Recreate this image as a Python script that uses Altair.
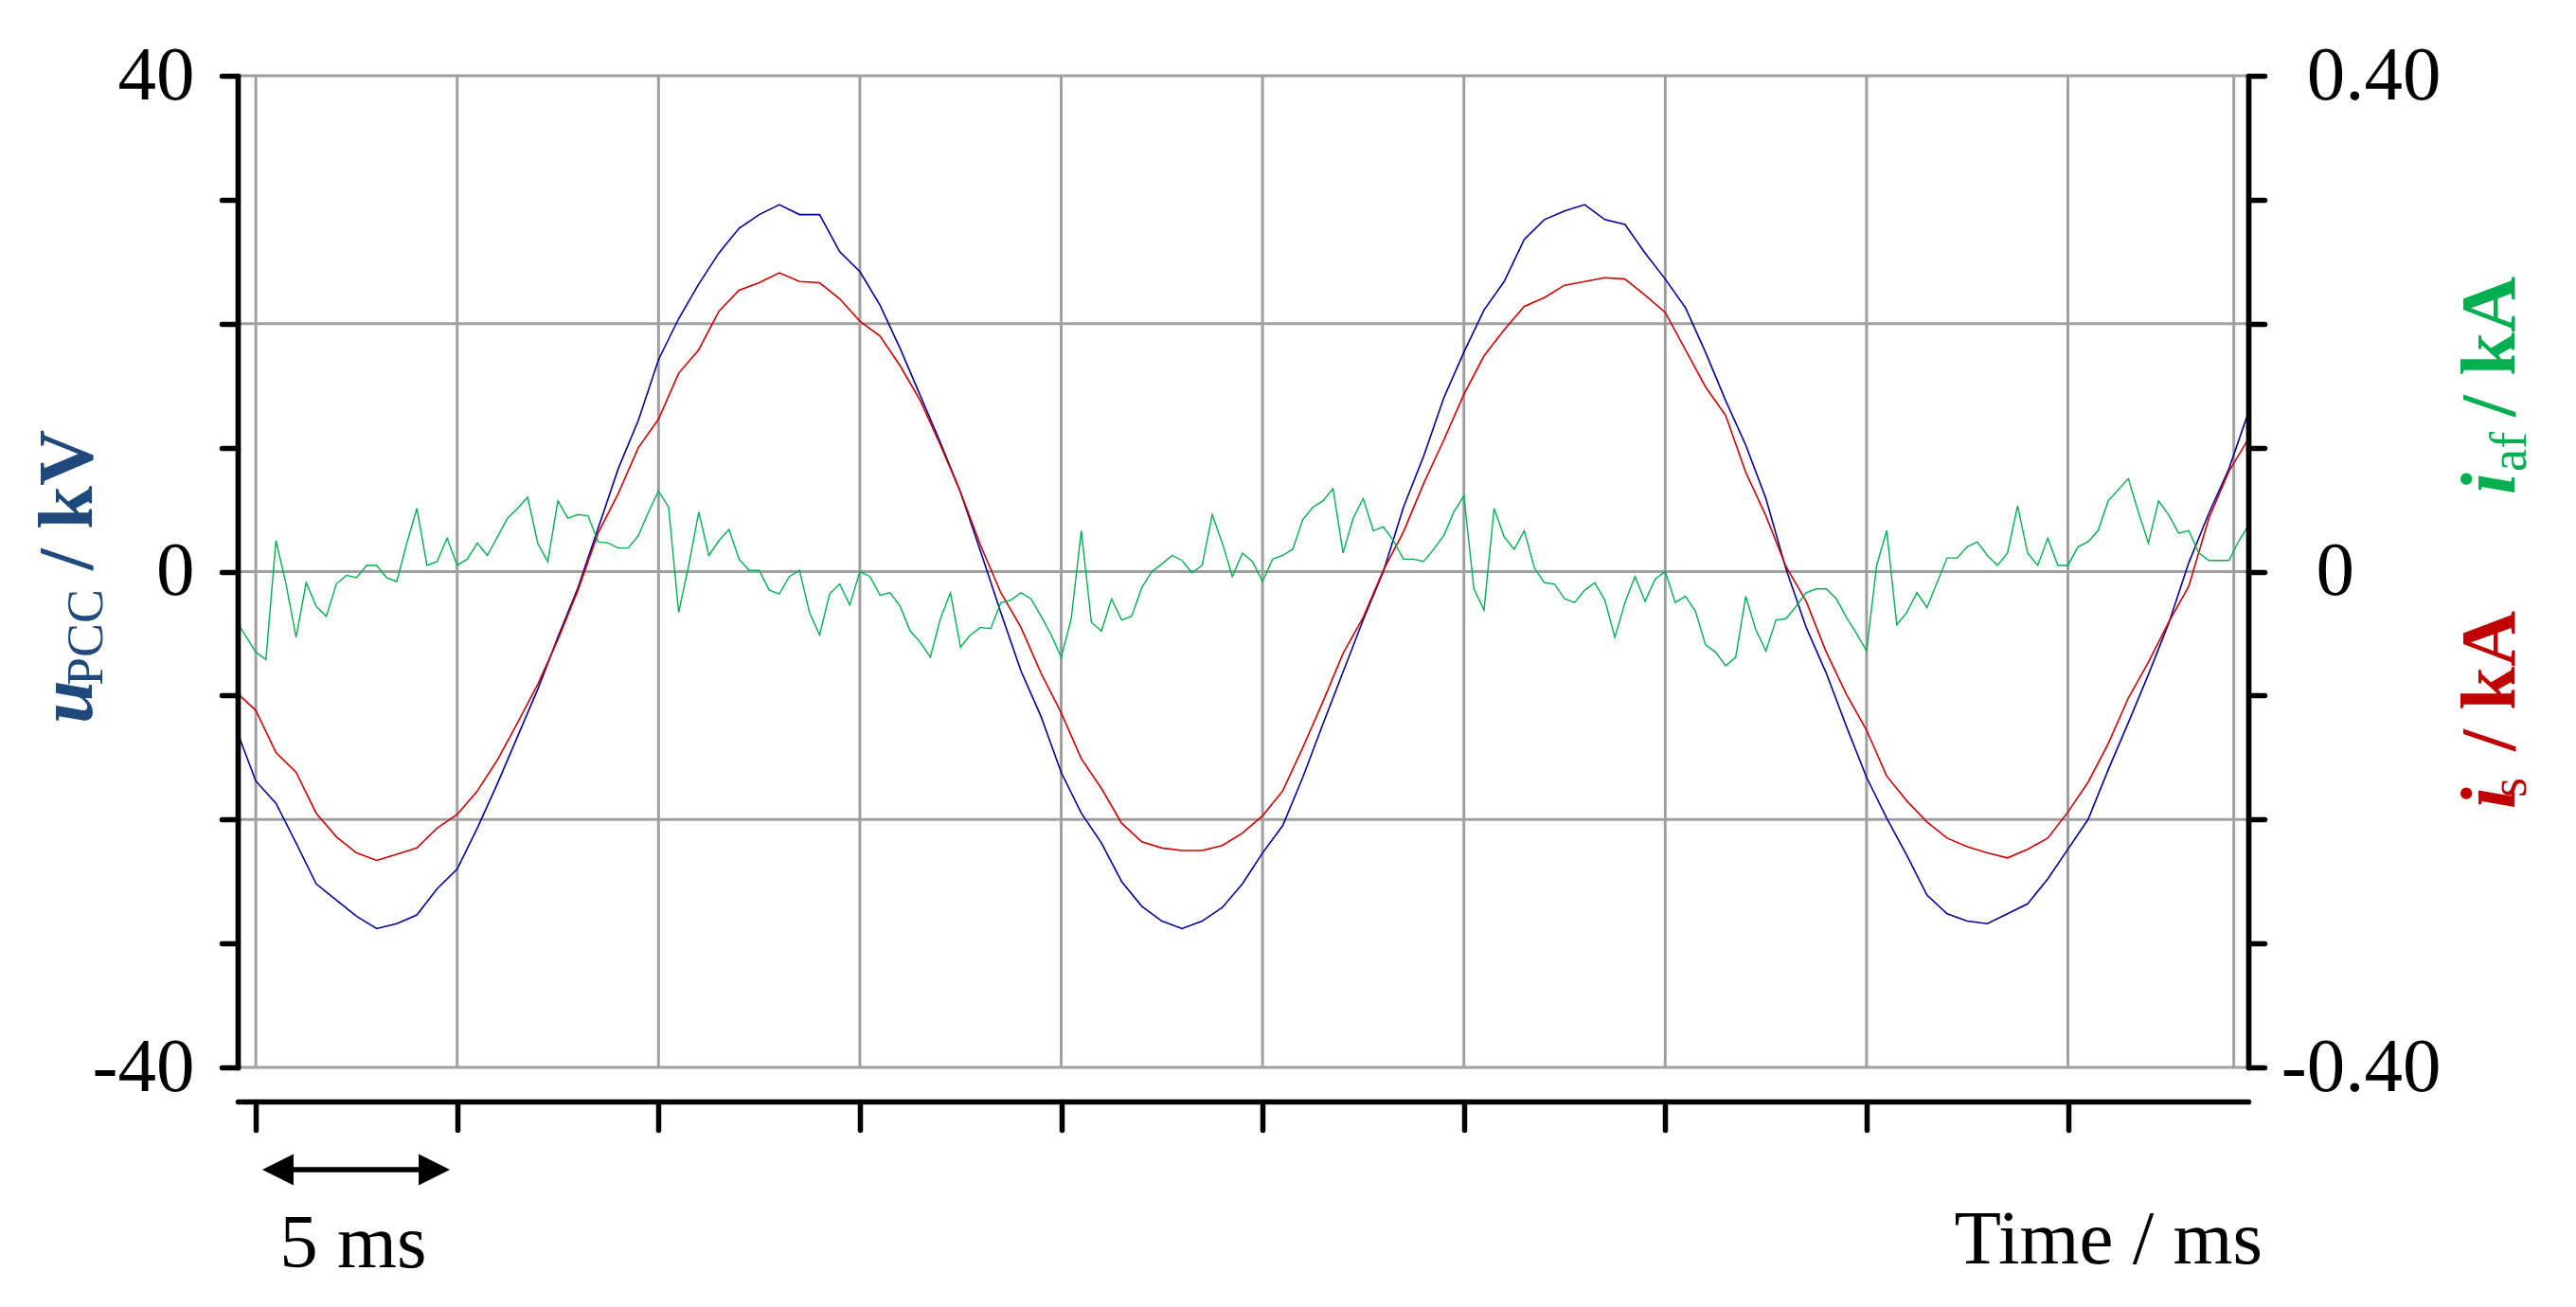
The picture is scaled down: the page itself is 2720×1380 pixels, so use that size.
import altair as alt
import pandas as pd

# ---------------- data ----------------
# u_PCC in kV, sampled every 0.5 ms starting at t = -0.5 ms
U_T0, U_DT = -0.5, 0.5
u_pcc_kv = [
    -12.6, -16.9, -18.7, -21.9, -25.2, -26.5, -27.8, -28.8,
    -28.4, -27.7, -25.6, -24.0, -20.7, -17.1, -13.3, -9.5,
    -5.3, -1.3, 3.5, 8.3, 12.2, 17.1, 20.4, 23.2,
    25.7, 27.7, 28.8, 29.6, 28.8, 28.8, 25.8, 24.2,
    21.5, 18.0, 14.2, 10.4, 6.4, 1.6, -3.3, -8.0,
    -11.7, -16.2, -19.5, -21.9, -25.0, -27.0, -28.2, -28.8,
    -28.2, -27.1, -25.2, -22.7, -20.5, -16.6, -12.3, -8.1,
    -3.9, 0.0, 5.2, 9.3, 14.0, 17.7, 21.1, 23.4,
    26.8, 28.4, 29.1, 29.6, 28.4, 28.0, 25.7, 23.6,
    21.3, 17.7, 13.8, 10.2, 5.9, 0.2, -4.5, -8.2,
    -12.5, -16.6, -19.9, -22.9, -26.1, -27.6, -28.2, -28.4,
    -27.6, -26.8, -24.8, -22.4, -20.0, -16.0, -12.2, -8.3,
    -4.2, 0.7, 4.7, 8.3, 13.0,
]
# i_s in kA, same time base as u_PCC
i_s_ka = [
    -0.097, -0.112, -0.146, -0.162, -0.195, -0.214, -0.227, -0.233,
    -0.228, -0.223, -0.207, -0.196, -0.177, -0.152, -0.122, -0.091,
    -0.055, -0.015, 0.031, 0.063, 0.100, 0.123, 0.160, 0.179,
    0.210, 0.227, 0.233, 0.241, 0.234, 0.233, 0.220, 0.202,
    0.190, 0.166, 0.138, 0.102, 0.064, 0.021, -0.017, -0.045,
    -0.082, -0.114, -0.151, -0.175, -0.203, -0.218, -0.223, -0.225,
    -0.225, -0.221, -0.211, -0.197, -0.177, -0.142, -0.105, -0.066,
    -0.037, 0.001, 0.032, 0.071, 0.106, 0.143, 0.174, 0.195,
    0.214, 0.221, 0.231, 0.234, 0.237, 0.236, 0.223, 0.209,
    0.179, 0.149, 0.126, 0.080, 0.045, 0.004, -0.024, -0.065,
    -0.099, -0.128, -0.165, -0.185, -0.202, -0.215, -0.222, -0.227,
    -0.231, -0.224, -0.215, -0.194, -0.170, -0.139, -0.102, -0.073,
    -0.041, -0.012, 0.043, 0.081, 0.108,
]
# i_af in kA, sampled every 0.25 ms starting at t = -0.5 ms
G_T0, G_DT = -0.5, 0.25
i_af_ka = [
    -0.039, -0.052, -0.065, -0.071, 0.025, -0.010, -0.053, -0.009,
    -0.028, -0.036, -0.010, -0.003, -0.005, 0.005, 0.005, -0.005,
    -0.008, 0.023, 0.051, 0.005, 0.008, 0.027, 0.005, 0.010,
    0.023, 0.013, 0.028, 0.043, 0.051, 0.060, 0.023, 0.008,
    0.057, 0.043, 0.046, 0.045, 0.024, 0.023, 0.019, 0.019,
    0.029, 0.048, 0.065, 0.052, -0.033, 0.005, 0.048, 0.013,
    0.025, 0.034, 0.010, 0.001, 0.001, -0.015, -0.018, -0.004,
    0.001, -0.033, -0.051, -0.018, -0.010, -0.027, 0.000, -0.004,
    -0.019, -0.017, -0.028, -0.048, -0.057, -0.069, -0.038, -0.017,
    -0.061, -0.051, -0.045, -0.046, -0.025, -0.023, -0.017, -0.022,
    -0.036, -0.051, -0.069, -0.038, 0.033, -0.041, -0.048, -0.022,
    -0.039, -0.036, -0.013, 0.000, 0.006, 0.013, 0.009, -0.001,
    0.005, 0.046, 0.023, -0.004, 0.015, 0.008, -0.008, 0.010,
    0.013, 0.018, 0.042, 0.052, 0.057, 0.067, 0.015, 0.043,
    0.059, 0.033, 0.036, 0.025, 0.010, 0.010, 0.008, 0.018,
    0.029, 0.048, 0.061, -0.014, -0.031, 0.051, 0.028, 0.018,
    0.033, 0.003, -0.009, -0.010, -0.022, -0.025, -0.015, -0.009,
    -0.023, -0.053, -0.025, -0.004, -0.024, -0.006, 0.000, -0.025,
    -0.020, -0.032, -0.059, -0.065, -0.076, -0.069, -0.020, -0.047,
    -0.064, -0.039, -0.038, -0.028, -0.017, -0.014, -0.014, -0.022,
    -0.037, -0.050, -0.064, 0.005, 0.033, -0.043, -0.033, -0.017,
    -0.029, -0.009, 0.011, 0.011, 0.020, 0.024, 0.013, 0.005,
    0.015, 0.053, 0.015, 0.005, 0.027, 0.005, 0.005, 0.020,
    0.024, 0.033, 0.057, 0.066, 0.075, 0.048, 0.023, 0.057,
    0.046, 0.031, 0.033, 0.015, 0.009, 0.009, 0.009, 0.025,
    0.038,
]

# axes / ticks / labels
x_domain = [-0.45, 49.48]
x_ticks = [0, 5, 10, 15, 20, 25, 30, 35, 40, 45]
x_grid = x_ticks + [49.12]
u_domain = [-40, 40]
u_ticks = [-40, -30, -20, -10, 0, 10, 20, 30, 40]
u_grid = [-40, -20, 0, 20, 40]
u_labels = [(40, "40"), (0, "0"), (-40, "-40")]
i_domain = [-0.4, 0.4]
i_ticks = [-0.4, -0.3, -0.2, -0.1, 0.0, 0.1, 0.2, 0.3, 0.4]
i_end_labels = [(0.4, "0.40"), (-0.4, "-0.40")]
i_zero_label = [(0.0, "0")]

# "5 ms" scale bar (time in ms, level in kV units below the plot)
bar_tips = [0.16, 4.82]
bar_shaft = [0.45, 4.55]
bar_level = [-48.25]

SERIF = "Liberation Serif"
C_BLUE_LINE = "#000096"
C_RED_LINE = "#CC0000"
C_GREEN = "#00B050"
C_TITLE_BLUE = "#1F497D"
C_TITLE_RED = "#C00000"
GRID = "#A0A0A0"

W, H = 2123, 1047

# ---------------- tables ----------------
t_main = [U_T0 + U_DT * k for k in range(len(u_pcc_kv))]
t_g = [G_T0 + G_DT * k for k in range(len(i_af_ka))]
df_main = pd.DataFrame({"t": t_main, "u": u_pcc_kv, "i_s": i_s_ka})
df_g = pd.DataFrame({"t": t_g, "i_af": i_af_ka})

# ---------------- shared encodings ----------------
x_axis = alt.Axis(orient="bottom", values=x_ticks, grid=False, labels=False,
                  ticks=True, tickSize=30, tickWidth=5.5, tickColor="black",
                  tickCap="round", domain=True, domainColor="black",
                  domainWidth=5.5, domainCap="round", offset=36, title=None,
                  zindex=1)
x_scale = alt.Scale(domain=x_domain, nice=False, zero=False)


def X(field):
    return alt.X(field, type="quantitative", scale=x_scale, axis=x_axis, title=None)


expr_u = " : ".join(f"datum.value == {v} ? '{s}'" for v, s in u_labels) + " : ''"
u_axis = alt.Axis(orient="left", values=u_ticks, grid=False, labelExpr=expr_u,
                  labelFont=SERIF, labelFontSize=81, labelColor="black",
                  labelPadding=29, labelOverlap=False, labelLimit=400,
                  tickSize=17, tickWidth=5.5, tickColor="black", tickCap="round",
                  domainColor="black", domainWidth=5.7, domainCap="round",
                  title=None, zindex=1)
u_scale = alt.Scale(domain=u_domain, nice=False, zero=False)


def YU(field):
    return alt.Y(field, type="quantitative", scale=u_scale, axis=u_axis, title=None)


expr_i = " : ".join(f"abs(datum.value - ({v})) < 1e-6 ? '{s}'"
                    for v, s in i_end_labels) + " : ''"
i_axis = alt.Axis(orient="right", values=i_ticks, grid=False, labelExpr=expr_i,
                  labelFont=SERIF, labelFontSize=81, labelColor="black",
                  labelAlign="right", labelPadding=186, labelOverlap=False,
                  labelLimit=400, tickSize=17, tickWidth=5.5, tickColor="black",
                  tickCap="round", domainColor="black", domainWidth=5.7,
                  domainCap="round", title=None, zindex=1)
i_scale = alt.Scale(domain=i_domain, nice=False, zero=False)


def YI(field):
    return alt.Y(field, type="quantitative", scale=i_scale, axis=i_axis, title=None)


# ---------------- layers on the kV scale ----------------
hgrid = alt.Chart(pd.DataFrame({"gy": u_grid})).mark_rule(
    color=GRID, strokeWidth=3).encode(y=YU("gy"))
vgrid = alt.Chart(pd.DataFrame({"gx": x_grid})).mark_rule(
    color=GRID, strokeWidth=3).encode(x=X("gx"))
blue = alt.Chart(df_main).mark_line(color=C_BLUE_LINE, strokeWidth=1.6,
                                    clip=True).encode(x=X("t"), y=YU("u"))

shaft = alt.Chart(pd.DataFrame({"a": [bar_shaft[0]], "b": [bar_shaft[1]],
                                "lvl": bar_level})).mark_rule(
    color="black", strokeWidth=5.5).encode(x=X("a"), x2="b", y=YU("lvl"))
head_l = alt.Chart(pd.DataFrame({"a": [bar_tips[0]], "lvl": bar_level})).mark_point(
    shape="M 0 0 L 2 -1 L 2 1 Z", size=1089, filled=True, color="black",
    opacity=1, strokeWidth=0).encode(x=X("a"), y=YU("lvl"))
head_r = alt.Chart(pd.DataFrame({"a": [bar_tips[1]], "lvl": bar_level})).mark_point(
    shape="M 0 0 L -2 -1 L -2 1 Z", size=1089, filled=True, color="black",
    opacity=1, strokeWidth=0).encode(x=X("a"), y=YU("lvl"))

left_group = alt.layer(hgrid, vgrid, blue, shaft, head_l, head_r)

# ---------------- layers on the kA scale ----------------
red = alt.Chart(df_main).mark_line(color=C_RED_LINE, strokeWidth=1.6,
                                   clip=True).encode(x=X("t"), y=YI("i_s"))
green = alt.Chart(df_g).mark_line(color=C_GREEN, strokeWidth=1.4,
                                  clip=True).encode(x=X("t"), y=YI("i_af"))
zero_lbl = alt.Chart(pd.DataFrame({"v": [v for v, _ in i_zero_label],
                                   "s": [s for _, s in i_zero_label]})).mark_text(
    font=SERIF, fontSize=81, color="black", align="right", baseline="middle"
).encode(y=YI("v"), text="s:N", x=alt.value(2486 - 251))
right_group = alt.layer(red, green, zero_lbl)


# ---------------- text annotations ----------------
def label(txt, x, y, size, color, style="normal", weight="normal",
          align="left", angle=0):
    return alt.Chart(pd.DataFrame({"s": [txt]})).mark_text(
        font=SERIF, fontSize=size, color=color, fontStyle=style,
        fontWeight=weight, align=align, baseline="alphabetic", angle=angle
    ).encode(text="s:N", x=alt.value(x), y=alt.value(y))


texts = [
    # left title: u_PCC / kV
    label("u", -154, 684, 82, C_TITLE_BLUE, "italic", "bold", angle=270),
    label("PCC", -143, 644, 54, C_TITLE_BLUE, angle=270),
    label("/ kV", -154, 522, 82, C_TITLE_BLUE, weight="bold", angle=270),
    # right titles: i_af / kA (green), i_s / kA (red)
    label("i", 2404, 442, 82, C_GREEN, "italic", "bold", angle=270),
    label("af", 2416, 418, 54, C_GREEN, angle=270),
    label("/ kA", 2404, 360, 82, C_GREEN, weight="bold", angle=270),
    label("i", 2404, 774, 82, C_TITLE_RED, "italic", "bold", angle=270),
    label("s", 2416, 762, 54, C_TITLE_RED, angle=270),
    label("/ kA", 2404, 713, 82, C_TITLE_RED, weight="bold", angle=270),
    # x title and scale bar text
    label("Time / ms", 2138, 1254, 81, "black", align="right"),
    label("5 ms", 122, 1258, 81, "black", align="center"),
]

chart = alt.layer(left_group, right_group, *texts).resolve_scale(
    y="independent"
).properties(
    width=W, height=H,
    autosize=alt.AutoSizeParams(type="none"),
    padding={"left": 243, "top": 72, "right": 320, "bottom": 230},
).configure_view(stroke=None)

chart.save("out.html", embed_options={"renderer": "svg", "actions": False})
